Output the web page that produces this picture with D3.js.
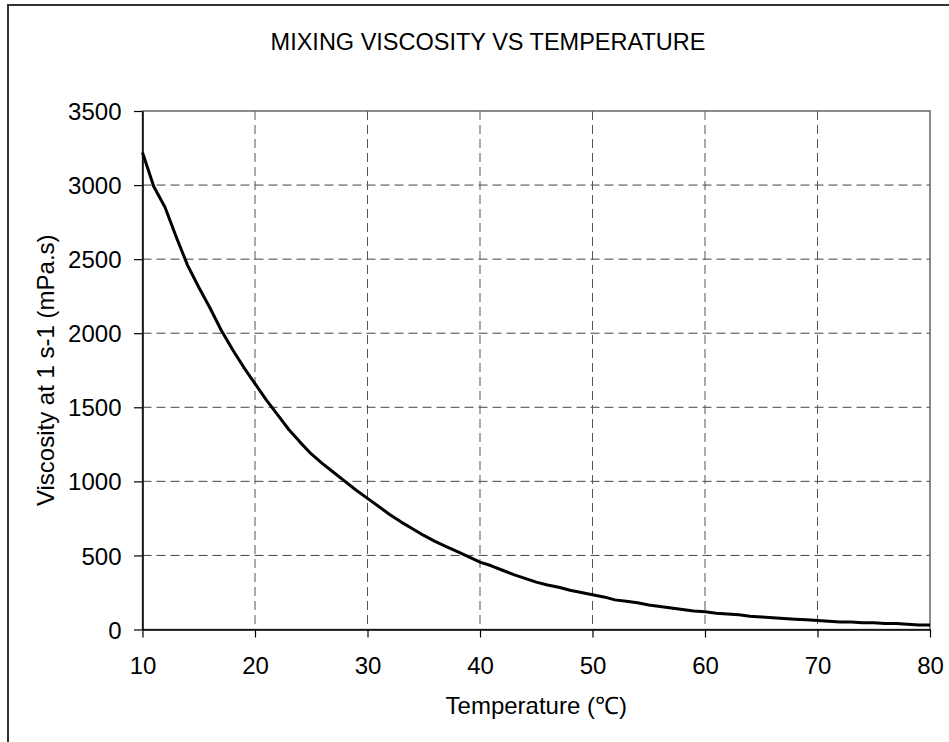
<!DOCTYPE html>
<html>
<head>
<meta charset="utf-8">
<script src="https://cdn.jsdelivr.net/npm/d3@7"></script>
<style>
  body { margin: 0; background: #fff; }
  text { font-family: "Liberation Sans", Arial, sans-serif; fill: #000; }
</style>
</head>
<body>
<svg id="chart" width="949" height="742"></svg>
<script>
// temperature (C) and mixing viscosity at 1 s-1 (mPa.s)
var temps = [10, 11, 12, 13, 14, 15, 16, 17, 18, 19,
             20, 21, 22, 23, 24, 25, 26, 27, 28, 29,
             30, 31, 32, 33, 34, 35, 36, 37, 38, 39,
             40, 41, 42, 43, 44, 45, 46, 47, 48, 49,
             50, 51, 52, 53, 54, 55, 56, 57, 58, 59,
             60, 61, 62, 63, 64, 65, 66, 67, 68, 69,
             70, 71, 72, 73, 74, 75, 76, 77, 78, 79, 80];
var viscosity = [3220, 2990, 2850, 2650, 2460, 2310, 2170, 2020, 1890, 1770,
                 1660, 1550, 1450, 1350, 1265, 1185, 1120, 1060, 1000, 940,
                 885, 830, 775, 725, 680, 635, 595, 560, 525, 490,
                 455, 430, 400, 370, 345, 320, 300, 285, 265, 250,
                 235, 220, 200, 190, 180, 165, 155, 145, 135, 125,
                 120, 110, 105, 100, 90, 85, 80, 75, 70, 65,
                 60, 55, 50, 50, 45, 45, 40, 40, 35, 30, 30];

var xTicks = [10, 20, 30, 40, 50, 60, 70, 80];
var yTicks = [0, 500, 1000, 1500, 2000, 2500, 3000, 3500];

var title = "MIXING VISCOSITY VS TEMPERATURE";
var xLabel = "Temperature (\u2103)";
var yLabel = "Viscosity at 1 s-1 (mPa.s)";

var plot = { left: 142.5, right: 930, top: 111, bottom: 629.5 };

var svg = d3.select("#chart");

// outer chart border (runs off the right and bottom of the picture)
svg.append("rect")
    .attr("x", 8).attr("y", 5)
    .attr("width", 960).attr("height", 760)
    .attr("fill", "none")
    .attr("stroke", "#333")
    .attr("stroke-width", 2);

var x = d3.scaleLinear().domain([10, 80]).range([plot.left, plot.right]);
var y = d3.scaleLinear().domain([0, 3500]).range([plot.bottom, plot.top]);

// grid
svg.append("g")
    .selectAll("line")
    .data(yTicks.filter(function(d) { return d > 0 && d < 3500; }))
    .enter().append("line")
      .attr("x1", plot.left).attr("x2", plot.right)
      .attr("y1", function(d) { return y(d); })
      .attr("y2", function(d) { return y(d); })
      .attr("stroke", "#444")
      .attr("stroke-dasharray", "9,5");

svg.append("g")
    .selectAll("line")
    .data(xTicks.filter(function(d) { return d > 10 && d < 80; }))
    .enter().append("line")
      .attr("y1", plot.top).attr("y2", plot.bottom)
      .attr("x1", function(d) { return x(d); })
      .attr("x2", function(d) { return x(d); })
      .attr("stroke", "#555")
      .attr("stroke-dasharray", "9,5");

// plot area frame
svg.append("rect")
    .attr("x", plot.left).attr("y", plot.top)
    .attr("width", plot.right - plot.left)
    .attr("height", plot.bottom - plot.top)
    .attr("fill", "none")
    .attr("stroke", "#666")
    .attr("stroke-width", 1.5);

// axes
var fmt = d3.format("d");
var xAxis = svg.append("g")
    .attr("transform", "translate(0," + plot.bottom + ")")
    .call(d3.axisBottom(x).tickValues(xTicks).tickFormat(fmt)
        .tickSize(8).tickPadding(19).tickSizeOuter(0));
var yAxis = svg.append("g")
    .attr("transform", "translate(" + plot.left + ",0)")
    .call(d3.axisLeft(y).tickValues(yTicks).tickFormat(fmt)
        .tickSize(8.5).tickPadding(12.5).tickSizeOuter(0));

[xAxis, yAxis].forEach(function(a) {
    a.select(".domain").attr("stroke", "#000").attr("stroke-width", 1.5);
    a.selectAll(".tick line").attr("stroke", "#000").attr("stroke-width", 1.2);
    a.selectAll(".tick text")
        .attr("font-size", 24)
        .attr("font-family", "Liberation Sans, Arial, sans-serif")
        .attr("fill", "#000");
});
yAxis.selectAll(".tick text").attr("dy", "0.36em");

// curve
var line = d3.line()
    .x(function(d, i) { return x(temps[i]); })
    .y(function(d) { return y(d); });

svg.append("path")
    .datum(viscosity)
    .attr("d", line)
    .attr("fill", "none")
    .attr("stroke", "#000")
    .attr("stroke-width", 3)
    .attr("stroke-linejoin", "round");

// texts
svg.append("text")
    .attr("x", 488).attr("y", 49.5)
    .attr("text-anchor", "middle")
    .attr("font-size", 23.5)
    .text(title);

svg.append("text")
    .attr("x", (plot.left + plot.right) / 2).attr("y", 714)
    .attr("text-anchor", "middle")
    .attr("font-size", 24)
    .text(xLabel);

svg.append("text")
    .attr("transform", "translate(54," + ((plot.top + plot.bottom) / 2) + ") rotate(-90)")
    .attr("text-anchor", "middle")
    .attr("font-size", 24)
    .text(yLabel);
</script>
</body>
</html>
